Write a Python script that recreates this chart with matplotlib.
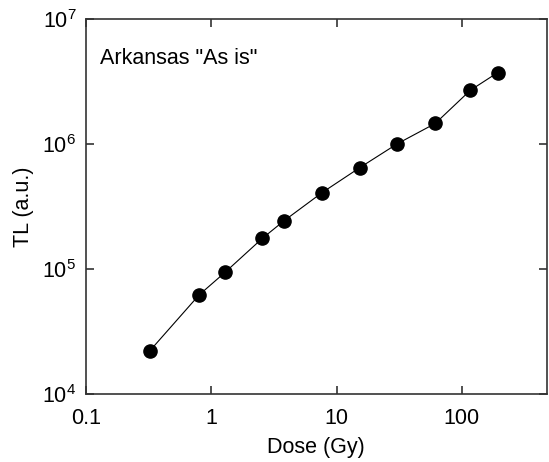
import matplotlib
matplotlib.use('Agg')
from matplotlib import pyplot as plt
from matplotlib import ticker

# dose (Gy) and TL response (a.u.)
dose = [0.324, 0.80, 1.29, 2.56, 3.81, 7.66, 15.3, 30.6, 61.4, 117, 193]
tl = [22200, 62000, 94100, 176000, 243000, 408000, 646000, 1005000, 1460000, 2690000, 3720000]
sample = 'Arkansas "As is"'

plt.rcParams['font.family'] = ['Liberation Sans', 'DejaVu Sans']
plt.rcParams['mathtext.fontset'] = 'custom'
plt.rcParams['mathtext.rm'] = 'Liberation Sans'
plt.rcParams['mathtext.it'] = 'Liberation Sans'
plt.rcParams['mathtext.default'] = 'regular'

fig = plt.figure(figsize=(5.49, 4.62), dpi=100)
ax = fig.add_axes([0.1566, 0.1472, 0.839, 0.8117])

ax.plot(dose, tl, 'o-', color='black', lw=0.8, markersize=9.5)

ax.set_xscale('log')
ax.set_yscale('log')
ax.set_xlim(0.1, 475)
ax.set_ylim(1e4, 1e7)

ax.xaxis.set_major_locator(ticker.FixedLocator([0.1, 1, 10, 100]))
ax.xaxis.set_major_formatter(ticker.FixedFormatter(['0.1', '1', '10', '100']))
ax.xaxis.set_minor_locator(ticker.NullLocator())
ax.yaxis.set_major_locator(ticker.FixedLocator([1e4, 1e5, 1e6, 1e7]))
ax.yaxis.set_major_formatter(ticker.FixedFormatter(
    [r'$10^{4}$', r'$10^{5}$', r'$10^{6}$', r'$10^{7}$']))
ax.yaxis.set_minor_locator(ticker.NullLocator())

ax.tick_params(axis='both', which='major', direction='in', length=6, width=1.2,
               top=True, right=True, labelsize=15.5, color='#333333')
ax.tick_params(axis='x', pad=10)
ax.tick_params(axis='y', pad=7)
for s in ax.spines.values():
    s.set_linewidth(1.2)
    s.set_color('#333333')

ax.set_xlabel('Dose (Gy)', fontsize=15.5, labelpad=6)
ax.set_ylabel('TL (a.u.)', fontsize=15.5, labelpad=6)
ax.text(0.03, 0.895, sample, transform=ax.transAxes, fontsize=15.5,
        ha='left', va='center')

plt.savefig('out.png', dpi=100)
plt.close()
